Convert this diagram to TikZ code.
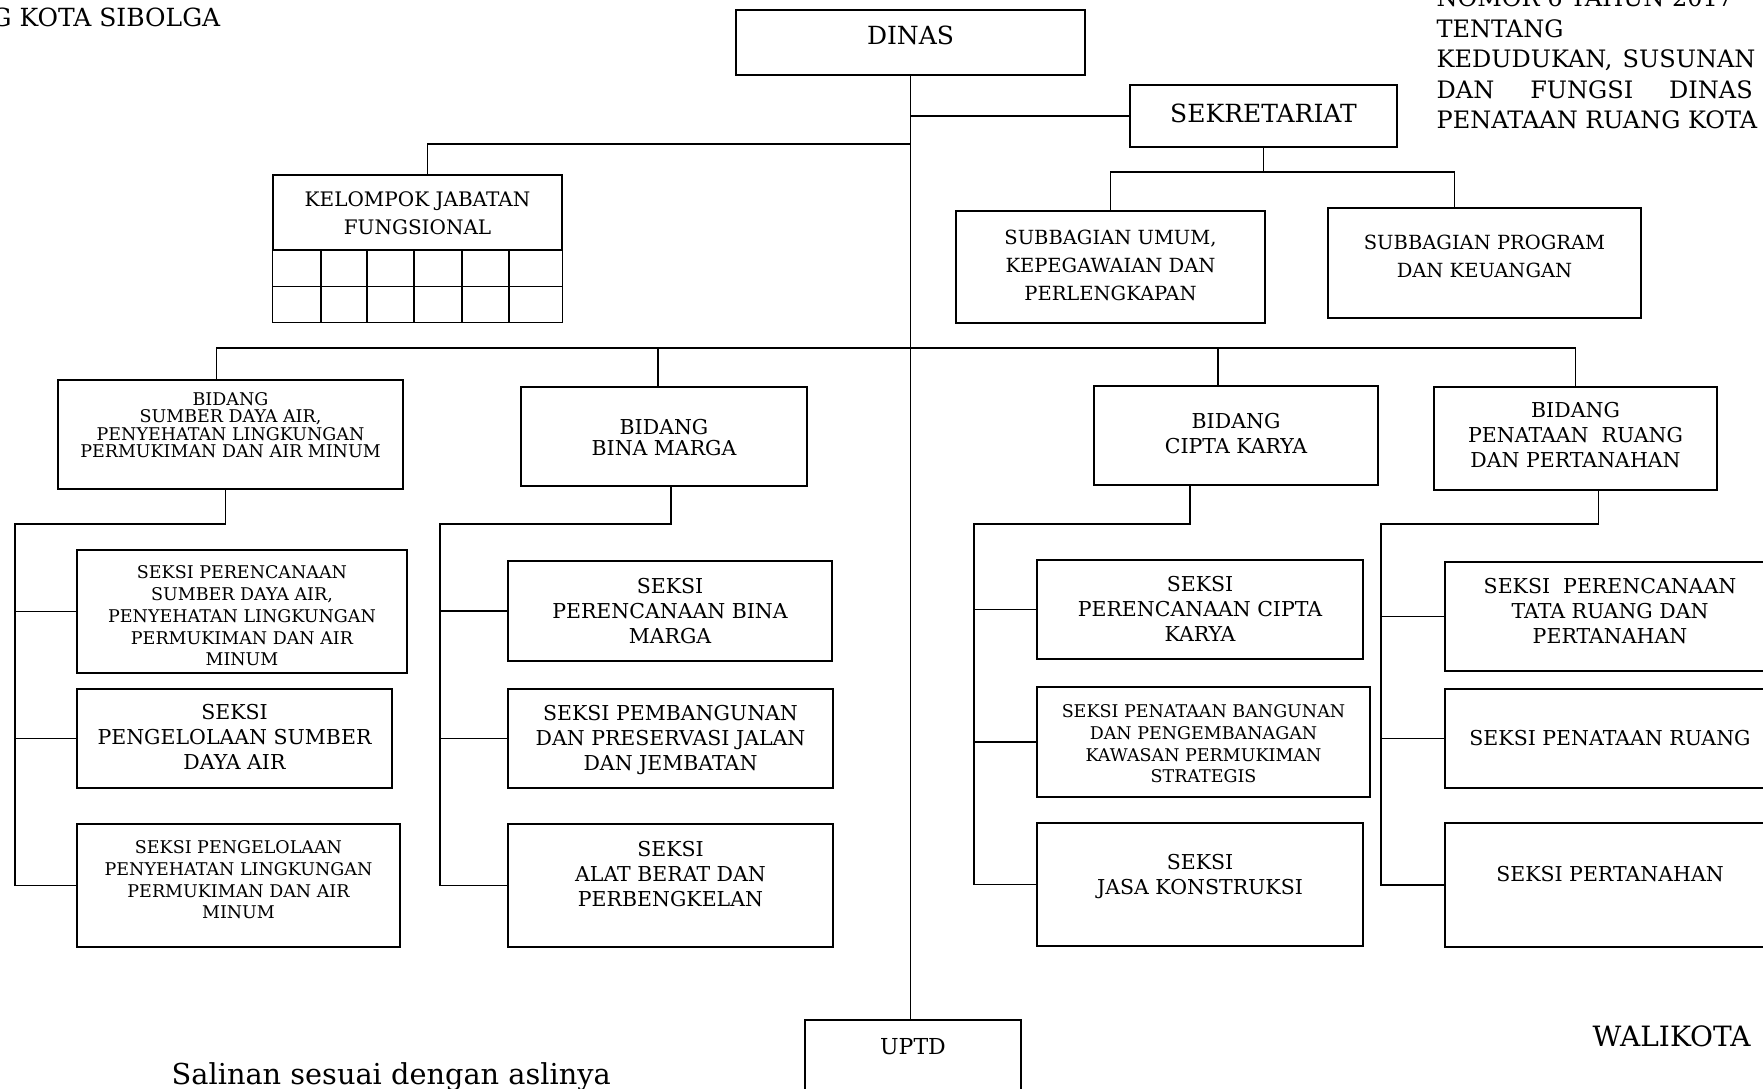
\documentclass[tikz,border=0pt]{standalone}
\usepackage{fontspec}
\setmainfont{DejaVu Serif}
\usepackage{tikz}
\usetikzlibrary{calc, fit, positioning}
\tikzstyle{box}=[rectangle, draw, inner sep=0pt]
\tikzstyle{txt}=[inner sep=0pt, align=center]
\tikzstyle{plain}=[inner sep=0pt]

\begin{document}
\begin{tikzpicture}[x=1pt, y=-1pt]

\tikzset{every path/.style={line width=1.4pt}}
\tikzset{fdinas/.style={font=\fontsize{25}{29}\selectfont}}
\tikzset{fsub/.style={font=\fontsize{19.5}{28}\selectfont}}
\tikzset{fseksi/.style={font=\fontsize{20.5}{25}\selectfont}}
\tikzset{fkecil/.style={font=\fontsize{17.5}{21.8}\selectfont}}
\tikzset{fbid/.style={font=\fontsize{17.5}{17.5}\selectfont}}
\tikzset{fhead/.style={font=\fontsize{24}{30.5}\selectfont}}
\tikzset{fbawah/.style={font=\fontsize{28}{32}\selectfont}}

\useasboundingbox (0,0) rectangle (1763,1088);

% Kepala dinas dan sekretariat
\node[box, fit={(736,10) (1085,75)}] (dinas) {};
\node[txt, fdinas, yshift=7.5pt] (dinas-t) at (dinas.center) {DINAS};
\node[box, fit={(1130,85) (1397,147)}] (sekr) {};
\node[txt, fdinas, yshift=3pt] (sekr-t) at (sekr.center) {SEKRETARIAT};
\node[box, fit={(273,175) (562,250)}] (kjf) {};
\node[txt, fsub, font=\fontsize{20}{28}\selectfont, yshift=-1pt] (kjf-t) at (kjf.center) {KELOMPOK JABATAN\\FUNGSIONAL};
\node[box, fit={(956,211) (1265,323)}] (umum) {};
\node[txt, fsub, yshift=2pt] (umum-t) at (umum.center) {SUBBAGIAN UMUM,\\KEPEGAWAIAN DAN\\PERLENGKAPAN};
\node[box, fit={(1328,208) (1641,318)}] (prog) {};
\node[txt, fsub, yshift=7pt] (prog-t) at (prog.center) {SUBBAGIAN PROGRAM\\DAN KEUANGAN};

% Tabel kelompok jabatan fungsional
\draw (kjf.south west) rectangle ([yshift=-72pt]kjf.south east);
\draw ([yshift=-36pt]kjf.south west) -- ([yshift=-36pt]kjf.south east);
\draw (321,250) -- (321,322) (367,250) -- (367,322) (414,250) -- (414,322)
      (462,250) -- (462,322) (509,250) -- (509,322);

% Bidang
\node[box, fit={(58,380) (403,489)}] (bsda) {};
\node[txt, fbid, yshift=9.5pt] (bsda-t) at (bsda.center) {BIDANG\\SUMBER DAYA AIR,\\PENYEHATAN LINGKUNGAN\\PERMUKIMAN DAN AIR MINUM};
\node[box, fit={(521,387) (807,486)}] (bbm) {};
\node[txt, fseksi, font=\fontsize{20.5}{21}\selectfont, yshift=-1pt] (bbm-t) at (bbm.center) {BIDANG\\BINA MARGA};
\node[box, fit={(1094,386) (1378,485)}] (bck) {};
\node[txt, fseksi, yshift=2pt] (bck-t) at (bck.center) {BIDANG\\CIPTA KARYA};
\node[box, fit={(1434,387) (1717,490)}] (bpr) {};
\node[txt, fseksi, yshift=3.5pt] (bpr-t) at (bpr.center) {BIDANG\\PENATAAN\ \ RUANG\\DAN PERTANAHAN};

% Seksi bidang sumber daya air
\node[box, fit={(77,550) (407,673)}] (s1a) {};
\node[txt, fkecil, yshift=-4.4pt] (s1a-t) at (s1a.center) {SEKSI PERENCANAAN\\SUMBER DAYA AIR,\\PENYEHATAN LINGKUNGAN\\PERMUKIMAN DAN AIR\\MINUM};
\node[box, fit={(77,689) (392,788)}] (s1b) {};
\node[txt, fseksi, yshift=1.5pt] (s1b-t) at (s1b.center) {SEKSI\\PENGELOLAAN SUMBER\\DAYA AIR};
\node[box, fit={(77,824) (400,947)}] (s1c) {};
\node[txt, fkecil, yshift=5.6pt] (s1c-t) at (s1c.center) {SEKSI PENGELOLAAN\\PENYEHATAN LINGKUNGAN\\PERMUKIMAN DAN AIR\\MINUM};

% Seksi bidang bina marga
\node[box, fit={(508,561) (832,661)}] (s2a) {};
\node[txt, fseksi, yshift=0pt] (s2a-t) at (s2a.center) {SEKSI\\PERENCANAAN BINA\\MARGA};
\node[box, fit={(508,689) (833,788)}] (s2b) {};
\node[txt, fseksi, yshift=-1.5pt] (s2b-t) at (s2b.center) {SEKSI PEMBANGUNAN\\DAN PRESERVASI JALAN\\DAN JEMBATAN};
\node[box, fit={(508,824) (833,947)}] (s2c) {};
\node[txt, fseksi, yshift=11.5pt] (s2c-t) at (s2c.center) {SEKSI\\ALAT BERAT DAN\\PERBENGKELAN};

% Seksi bidang cipta karya
\node[box, fit={(1037,560) (1363,659)}] (s3a) {};
\node[txt, fseksi, yshift=0.3pt] (s3a-t) at (s3a.center) {SEKSI\\PERENCANAAN CIPTA\\KARYA};
\node[box, fit={(1037,687) (1370,797)}] (s3b) {};
\node[txt, fkecil, yshift=-1.8pt] (s3b-t) at (s3b.center) {SEKSI PENATAAN BANGUNAN\\DAN PENGEMBANAGAN\\KAWASAN PERMUKIMAN\\STRATEGIS};
\node[box, fit={(1037,823) (1363,946)}] (s3c) {};
\node[txt, fseksi, yshift=7.5pt] (s3c-t) at (s3c.center) {SEKSI\\JASA KONSTRUKSI};

% Seksi bidang penataan ruang
\node[box, fit={(1445,562) (1775,671)}] (s4a) {};
\node[txt, fseksi, yshift=5pt] (s4a-t) at (s4a.center) {SEKSI\ \ PERENCANAAN\\TATA RUANG DAN\\PERTANAHAN};
\node[box, fit={(1445,689) (1775,788)}] (s4b) {};
\node[txt, fseksi, yshift=0.2pt] (s4b-t) at (s4b.center) {SEKSI PENATAAN RUANG};
\node[box, fit={(1445,823) (1775,947)}] (s4c) {};
\node[txt, fseksi, yshift=11pt] (s4c-t) at (s4c.center) {SEKSI PERTANAHAN};

\node[box, fit={(805,1020) (1021,1100)}] (uptd) {};
\node[txt, font=\fontsize{22}{26}\selectfont, yshift=13.6pt] (uptd-t) at (uptd.center) {UPTD};

% Garis komando
\draw (dinas.south) -- (dinas.south |- uptd.north);
\draw (dinas.south |- sekr.west) -- (sekr.west);
\draw (dinas.south |- 0,144) -| ([xshift=10pt]kjf.north);
\draw (sekr.south) -- (sekr.south |- 0,172);
\draw (umum.north) |- (sekr.south |- 0,172) -| ([xshift=-30pt]prog.north);
\draw ([xshift=-14pt]bsda.north) |- (dinas.south |- 0,348) -| (bpr.north);
\draw ([xshift=-6pt]bbm.north) -- ([xshift=-6pt]bbm.north |- 0,348);
\draw ([xshift=-18pt]bck.north) -- ([xshift=-18pt]bck.north |- 0,348);

% Garis seksi
\coordinate (bus1) at (15,524);
\coordinate (bus2) at (440,524);
\coordinate (bus3) at (974,524);
\coordinate (bus4) at (1381,524);
\draw ([xshift=-5pt]bsda.south) |- (bus1) |- (s1c.west);
\draw (bus1 |- s1a.west) -- (s1a.west);
\draw (bus1 |- s1b.west) -- (s1b.west);
\draw ([xshift=7pt]bbm.south) |- (bus2) |- (s2c.west);
\draw (bus2 |- s2a.west) -- (s2a.west);
\draw (bus2 |- s2b.west) -- (s2b.west);
\draw ([xshift=-46pt]bck.south) |- (bus3) |- (s3c.west);
\draw (bus3 |- s3a.west) -- (s3a.west);
\draw (bus3 |- s3b.west) -- (s3b.west);
\draw ([xshift=23pt]bpr.south) |- (bus4) |- (s4c.west);
\draw (bus4 |- s4a.west) -- (s4a.west);
\draw (bus4 |- s4b.west) -- (s4b.west);

% Teks lepas
\node[plain, fdinas, anchor=base east] (judul) at (221,26) {G KOTA SIBOLGA};
\node[plain, fhead, anchor=north west, align=left] (nomor) at (1436,-12)
  {NOMOR 6 TAHUN 2017\\TENTANG\\\makebox[316pt][s]{KEDUDUKAN,\ \ SUSUNAN}\\\makebox[316pt][s]{DAN FUNGSI DINAS}\\PENATAAN RUANG KOTA};
\node[plain, fbawah, anchor=base west] (walikota) at (1592,1046) {WALIKOTA};
\node[plain, fbawah, font=\fontsize{28.8}{32}\selectfont, anchor=base west] (salinan) at (171,1084) {Salinan sesuai dengan aslinya};

\end{tikzpicture}
\end{document}
